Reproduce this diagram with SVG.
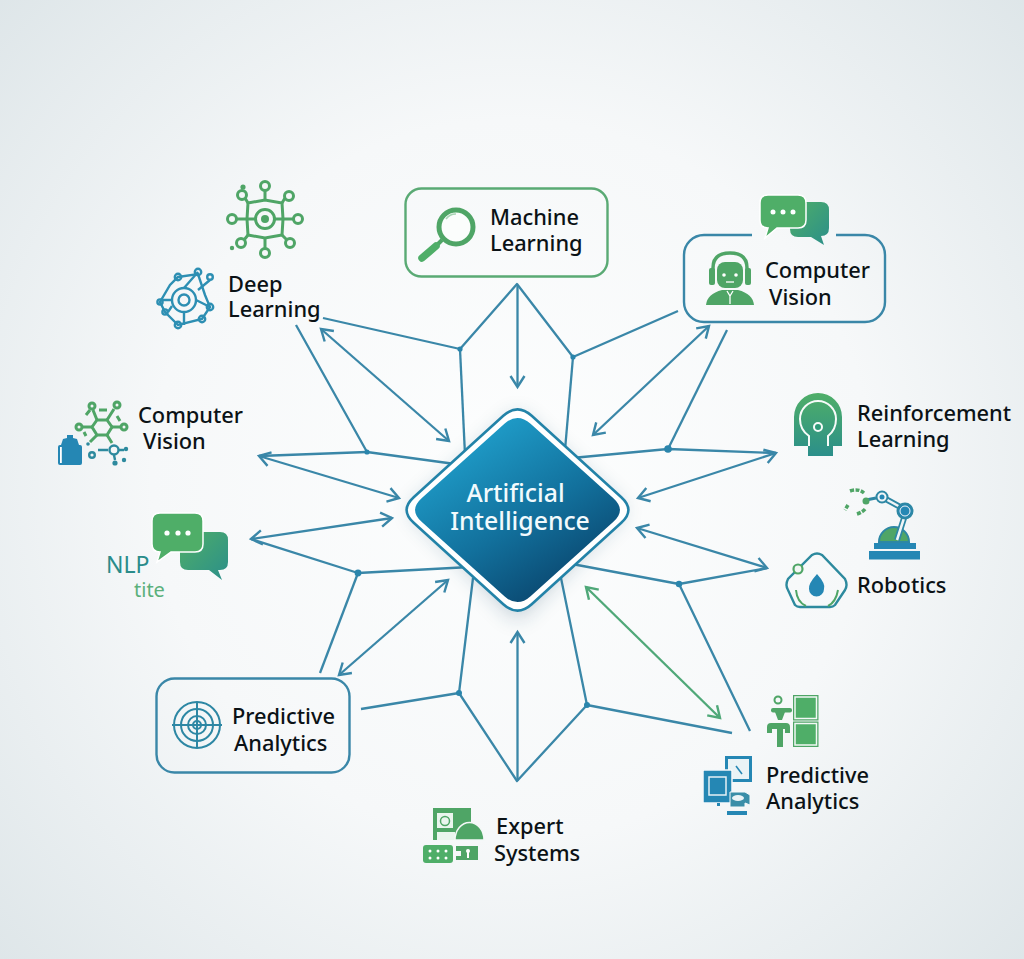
<svg xmlns="http://www.w3.org/2000/svg" width="1024" height="959" viewBox="0 0 1024 959">
<defs>
<radialGradient id="bg" gradientUnits="userSpaceOnUse" cx="512" cy="480" r="720">
<stop offset="0" stop-color="#fdfefe"/><stop offset="0.5" stop-color="#f6f8f9"/><stop offset="1" stop-color="#dde5e8"/>
</radialGradient>
<linearGradient id="core" x1="0.25" y1="0.1" x2="0.8" y2="0.9">
<stop offset="0" stop-color="#1f9dc9"/><stop offset="0.55" stop-color="#12709c"/><stop offset="1" stop-color="#0a466e"/>
</linearGradient>
<linearGradient id="gt" x1="0" y1="0" x2="1" y2="1">
<stop offset="0" stop-color="#4fae68"/><stop offset="1" stop-color="#2b8f8a"/>
</linearGradient>
<linearGradient id="gv" x1="0" y1="0" x2="0" y2="1">
<stop offset="0" stop-color="#4fae68"/><stop offset="1" stop-color="#2b8f8a"/>
</linearGradient>
<filter id="blur" x="-30%" y="-30%" width="160%" height="160%"><feGaussianBlur stdDeviation="11"/></filter>
<marker id="ah" markerUnits="userSpaceOnUse" markerWidth="30" markerHeight="30" refX="15" refY="15" orient="auto-start-reverse" overflow="visible">
<path d="M4,8 L15,15 L4,22" fill="none" stroke="#3a87a8" stroke-width="2.400"/>
</marker>
<marker id="ahg" markerUnits="userSpaceOnUse" markerWidth="30" markerHeight="30" refX="15" refY="15" orient="auto-start-reverse" overflow="visible">
<path d="M4,8 L15,15 L4,22" fill="none" stroke="#4fa878" stroke-width="2.400"/>
</marker>
</defs>
<style>
.t{font-family:"Noto Sans","Open Sans","Liberation Sans",sans-serif;font-size:21.8px;font-weight:500;fill:#0b1216}
.w{font-family:"Noto Sans","Open Sans","Liberation Sans",sans-serif;font-size:24.800px;font-weight:500;fill:#f2fafd;text-anchor:middle}
.c{fill:none;stroke:#3a87a8;stroke-width:2.300;stroke-linejoin:round}
.a{marker-end:url(#ah)}
.d{marker-start:url(#ah);marker-end:url(#ah)}
.n{fill:#2a85ac}
.g{fill:none;stroke:#4fa566;stroke-width:3}
.gf{fill:#4fa566}
.b{fill:none;stroke:#2d8fb3;stroke-width:2.400}
.bf{fill:#2587b4}
.te{fill:none;stroke:#2d8a9e;stroke-width:2.400}
.tf{fill:#2d8a9e}
.box{fill:none;stroke-width:2.400}
</style>
<rect width="1024" height="959" fill="url(#bg)"/>

<g id="connectors">
<polyline class="c" points="323,318 460,349 517,284 573,357 678,311"/>
<polyline class="c" points="460,349 465,455"/>
<polyline class="c" points="573,357 565,450"/>
<line class="c a" x1="517.500" y1="285" x2="517.500" y2="387"/>
<line class="c d" x1="321" y1="329" x2="449" y2="441"/>
<polyline class="c" points="296,325 367,452 455,464"/>
<polyline class="c" points="367,452 259,456"/>
<line class="c d" x1="259" y1="456" x2="399" y2="498"/>
<line class="c d" x1="251" y1="539" x2="392" y2="518"/>
<polyline class="c" points="251,539 358,573 470,567"/>
<line class="c" x1="358" y1="573" x2="320" y2="673"/>
<line class="c d" x1="339" y1="675" x2="448" y2="580"/>
<polyline class="c" points="361,709 459,693 473,578"/>
<polyline class="c" points="459,693 517,781 587,705 561,578"/>
<line class="c" x1="587" y1="705" x2="732" y2="733"/>
<line class="c a" x1="517.500" y1="781" x2="517.500" y2="632"/>
<line fill="none" stroke="#4fa878" stroke-width="2.300" marker-start="url(#ahg)" marker-end="url(#ahg)" x1="586" y1="587" x2="720" y2="718"/>
<polyline class="c" points="750,731 679,584 572,564"/>
<line class="c" x1="679" y1="584" x2="767" y2="568"/>
<line class="c d" x1="767" y1="568" x2="637" y2="528"/>
<line class="c d" x1="776" y1="453" x2="638" y2="498"/>
<polyline class="c" points="776,453 668,449 572,458"/>
<line class="c" x1="668" y1="449" x2="727" y2="330"/>
<line class="c d" x1="709" y1="326" x2="593" y2="435"/>
<circle class="n" cx="460" cy="349" r="2.600"/>
<circle class="n" cx="573" cy="357" r="2.600"/>
<circle class="n" cx="367" cy="452" r="2.600"/>
<circle class="n" cx="668" cy="449" r="3.800"/>
<circle class="n" cx="358" cy="573" r="3.400"/>
<circle class="n" cx="679" cy="584" r="3.200"/>
<circle class="n" cx="459" cy="693" r="3"/>
<circle class="n" cx="587" cy="705" r="3"/>
</g>

<g id="node-ai">
<path d="M517.5,413 L625,510 L517.5,620 L410,510 Z" fill="#1b4a66" opacity="0.28" filter="url(#blur)"/>
<path d="M503.300,415.800 Q517.500,403 531.700,415.800 L621.300,497.200 Q635.500,510 621.300,522.800 L531.700,604.200 Q517.500,617 503.300,604.200 L413.700,522.800 Q399.500,510 413.700,497.200 Z" fill="#ffffff" stroke="#2383a8" stroke-width="2.600"/>
<path d="M504.400,423.800 Q517.500,412 530.600,423.800 L613.400,498.200 Q626.500,510 613.400,521.800 L530.600,596.200 Q517.500,608 504.400,596.200 L421.600,521.800 Q408.500,510 421.600,498.200 Z" fill="url(#core)"/>
<text class="w" x="515.500" y="502">Artificial</text>
<text class="w" x="520" y="530">Intelligence</text>
</g>

<g id="node-machine-learning">
<rect class="box" x="405.500" y="188.500" width="202" height="88" rx="16" stroke="#5aaa74"/>
<circle cx="456" cy="227" r="17" fill="#fbfdfc" stroke="#4fa566" stroke-width="5"/>
<path d="M446,219 A12,12 0 0 1 456,214" fill="none" stroke="#a8d4b4" stroke-width="1.600"/>
<line x1="442" y1="240" x2="437" y2="245" stroke="#4fa566" stroke-width="4"/>
<line x1="436" y1="246" x2="422" y2="258" stroke="#4fae68" stroke-width="7.500" stroke-linecap="round"/>
<text class="t" x="490" y="225">Machine</text>
<text class="t" x="490" y="251">Learning</text>
</g>

<g id="node-computer-vision-box">
<path class="box" d="M752,235 H704 A20,20 0 0 0 684,255 V302 A20,20 0 0 0 704,322 H865 A20,20 0 0 0 885,302 V255 A20,20 0 0 0 865,235 H836" stroke="#3a87a8"/>
<path d="M794,202 H821 Q829,202 829,210 V228 Q829,236 821,236 L824,245 L811,237 H798 Q790,237 790,229 Z" fill="url(#gt)"/>
<path d="M768,195 H798 Q806,195 806,203 V220 Q806,228 798,228 H777 L765,238 L768,228 Q760,228 760,220 V203 Q760,195 768,195 Z" fill="#4fae68" stroke="#ffffff" stroke-width="1.500"/>
<circle cx="773" cy="212" r="2.500" fill="#fff"/><circle cx="783" cy="212" r="2.500" fill="#fff"/><circle cx="793" cy="212" r="2.500" fill="#fff"/>
<path d="M706,305 Q707,294 722,290 L738,290 Q753,294 754,305 Z" class="gf"/>
<rect x="717" y="262" width="26" height="26" rx="8" class="gf"/>
<path d="M713,283 V268 Q713,253 730,253 Q747,253 747,268 V283" fill="none" stroke="#4fa566" stroke-width="3.500"/>
<rect x="709" y="268" width="6" height="17" rx="2" class="gf"/><rect x="745" y="268" width="6" height="17" rx="2" class="gf"/>
<circle cx="724" cy="275" r="1.800" fill="#fff"/><circle cx="736" cy="275" r="1.800" fill="#fff"/>
<path d="M726,282 H734" stroke="#fff" stroke-width="1.300"/>
<path d="M727,291 L730,296 L733,291 M730,296 V304" stroke="#fff" stroke-width="1.300" fill="none"/>
<text class="t" x="765" y="278">Computer</text>
<text class="t" x="769" y="305">Vision</text>
</g>

<g id="node-deep-learning">
<g class="g">
<path d="M248,203 L265,200 L282,203 L283,219 L282,235 L265,238 L248,235 L247,219 Z"/>
<path d="M265,191 V200 M265,238 V248 M236,219 H255 M275,219 H294 M245,198 L248,203 M285,198 L282,203 M282,235 L287,240 M248,235 L244,240"/>
<circle cx="265" cy="186" r="4.500"/><circle cx="289" cy="196" r="4.500"/><circle cx="298" cy="219" r="4.500"/><circle cx="290" cy="243" r="4.500"/><circle cx="265" cy="253" r="4.500"/><circle cx="241" cy="243" r="4.500"/><circle cx="232" cy="219" r="4.500"/><circle cx="242" cy="195" r="4.500"/>
<circle cx="265" cy="219" r="9.500"/>
</g>
<circle class="gf" cx="265" cy="219" r="4"/><circle class="gf" cx="243" cy="187" r="2.600"/><circle class="gf" cx="232" cy="248" r="2.200"/>
<g class="b">
<circle cx="184" cy="300" r="5.500"/><circle cx="184" cy="300" r="12"/>
<path d="M178,277 L198,274 L205,295 L210,307 L202,319 L178,325 L165,312 L160,302 L170,285 Z"/>
<path d="M184,288 L198,272 M196,300 L210,307 M184,312 V325 M172,300 H160 M198,290 L210,280 M168,312 L172,306"/>
<circle cx="178" cy="277" r="3.200"/><circle cx="198" cy="272" r="3.200"/><circle cx="210" cy="277" r="2.800"/><circle cx="210" cy="307" r="3.200"/><circle cx="202" cy="319" r="3.200"/><circle cx="178" cy="325" r="3.200"/><circle cx="165" cy="312" r="2.600"/><circle cx="160" cy="302" r="2.600"/>
</g>
<text class="t" x="228" y="292">Deep</text>
<text class="t" x="228" y="317">Learning</text>
</g>

<g id="node-computer-vision-left">
<g class="g" stroke-width="2.400">
<path d="M97,420 H107 L112,427 L107,435 H97 L92,427 Z"/>
<path d="M97,420 L93,410 M107,420 L114,409 M112,427 H120 M92,427 H83 M97,435 L90,442 M107,435 L112,443 M99,410 H107 M86,415 L90,410 M117,416 L120,421 M86,436 L84,432"/>
<circle cx="92" cy="406" r="3"/><circle cx="117" cy="405" r="3"/><circle cx="124" cy="427" r="3"/><circle cx="79" cy="427" r="3"/>
</g>
<rect x="58" y="445" width="24" height="20" rx="2" class="bf"/>
<rect x="60" y="447" width="1.800" height="16" fill="#fff"/>
<path d="M61,445 L63,439 L67,438 V435 H73 V438 L77,439 L79,445 Z" class="bf"/>
<g class="te"><circle cx="114" cy="450" r="4.500"/><circle cx="92" cy="455" r="2.800"/><path d="M98,450 H108 M119,450 H124 M114,455 L115,460"/></g>
<circle class="tf" cx="115" cy="463" r="2.600"/><circle class="tf" cx="124" cy="460" r="2.200"/><circle class="tf" cx="126" cy="449" r="2.200"/><circle class="tf" cx="88" cy="444" r="1.800"/>
<text class="t" x="138" y="423">Computer</text>
<text class="t" x="143" y="449">Vision</text>
</g>

<g id="node-nlp">
<path d="M190,532 H220 Q228,532 228,540 V562 Q228,570 220,570 H218 L222,580 L209,570 H188 Q180,570 180,562 V540 Q180,532 190,532 Z" fill="url(#gt)"/>
<path d="M160,513 H195 Q203,513 203,521 V544 Q203,552 195,552 H171 L157,562 L160,552 Q152,552 152,544 V521 Q152,513 160,513 Z" fill="#4fae68" stroke="#ffffff" stroke-width="1.500"/>
<circle cx="167" cy="533" r="2.600" fill="#fff"/><circle cx="178" cy="533" r="2.600" fill="#fff"/><circle cx="188" cy="533" r="2.600" fill="#fff"/>
<text x="106" y="573" font-family="Noto Sans, sans-serif" font-size="23" fill="#2a8c8a">NLP</text>
<text x="134" y="597" font-family="Noto Sans, sans-serif" font-size="20" fill="#5bb07b">tite</text>
</g>

<g id="node-predictive-box">
<rect class="box" x="156.500" y="678.500" width="193" height="94" rx="18" stroke="#3a87a8"/>
<g fill="none" stroke="#2d87a4" stroke-width="2">
<circle cx="197" cy="725" r="23"/><circle cx="197" cy="725" r="16"/><circle cx="197" cy="725" r="9"/><circle cx="197" cy="725" r="4"/>
<path d="M172,725 H222 M197,702 V748"/>
</g>
<text class="t" x="232" y="724">Predictive</text>
<text class="t" x="234" y="751">Analytics</text>
</g>

<g id="node-reinforcement">
<path d="M794,446 V417 A24,24 0 0 1 842,417 V446 H833 V456 H808 V446 Z" fill="url(#gv)"/>
<path d="M809,446 V436 Q800,430 800,419 A18,18 0 0 1 836,419 Q836,430 828,436 V446" fill="none" stroke="#f7fbf9" stroke-width="2"/>
<circle cx="818" cy="427" r="4" fill="#2f9a78" stroke="#f7fbf9" stroke-width="2"/>
<text class="t" x="857" y="421">Reinforcement</text>
<text class="t" x="857" y="447">Learning</text>
</g>

<g id="node-robotics">
<rect x="869" y="551" width="51" height="8.500" class="bf"/>
<rect x="874" y="543" width="42" height="6" class="bf"/>
<path d="M879,542 A15,15 0 0 1 909,542 Z" fill="#4fa566" stroke="#2d87a4" stroke-width="2"/>
<path d="M897,540 L905,515 M882,497 L902,508" stroke="#2d87a4" stroke-width="6" fill="none"/>
<path d="M897,540 L905,515 M882,497 L902,508" stroke="#f1f5f7" stroke-width="2.500" fill="none"/>
<line x1="866" y1="500" x2="876" y2="498" stroke="#2d87a4" stroke-width="3"/>
<circle cx="905" cy="511" r="7.500" fill="#2587b4" stroke="#2d87a4" stroke-width="2"/>
<circle cx="905" cy="511" r="5" fill="#2587b4" stroke="#f1f5f7" stroke-width="1"/>
<circle cx="882" cy="497" r="5.500" fill="#f1f5f7" stroke="#2d87a4" stroke-width="2"/>
<circle cx="882" cy="497" r="2.500" class="bf"/>
<circle cx="866" cy="501" r="3.500" class="gf"/>
<path d="M850,491 Q858,488 864,493 M848,505 L845,510 M857,514 Q863,512 866,508" fill="none" stroke="#4fa566" stroke-width="3.500" stroke-dasharray="4 1.500"/>
<path class="te" d="M812,555 Q817,552 822,555 L845,579 Q848,585 845,590 L835,605 Q833,607 830,607 H800 Q797,607 795,605 L788,590 Q785,585 788,579 Z"/>
<path d="M817,574 Q826,584 824,589 A7.500,7.500 0 0 1 809,589 Q808,584 817,574 Z" class="bf"/>
<circle cx="798" cy="569" r="4.500" fill="#f1f6f4" stroke="#4fa566" stroke-width="2.200"/>
<path d="M796,590 Q797,602 806,606 M838,590 Q836,602 828,606" fill="none" stroke="#4fa566" stroke-width="2"/>
<text class="t" x="857" y="593">Robotics</text>
</g>

<g id="node-predictive-right">
<rect x="793" y="695" width="25.500" height="25.500" class="gf"/>
<rect x="795" y="697" width="21.500" height="21.500" fill="#4fae68" stroke="#f2f8f5" stroke-width="1.500"/>
<rect x="793" y="721.500" width="25.500" height="25.500" class="gf"/>
<rect x="795" y="723.500" width="21.500" height="21.500" fill="#4fae68" stroke="#f2f8f5" stroke-width="1.500"/>
<circle cx="778" cy="700" r="3.500" fill="none" stroke="#4fa566" stroke-width="2"/>
<rect x="771" y="708" width="21" height="4.500" rx="2" class="gf"/>
<path d="M775,712 H785 L782,720 H778 Z" class="gf"/>
<path d="M767,727 Q767,723 771,723 H786 Q790,723 790,727 V733 H785 V729 H783 V747 H777 V729 H772 V733 H767 Z" class="gf"/>
<rect x="725" y="756" width="27" height="26" fill="#2587b4"/>
<rect x="728" y="759" width="21" height="20" fill="#eaf3f6"/>
<line x1="736" y1="766" x2="742" y2="774" stroke="#2587b4" stroke-width="1.500"/>
<rect x="703" y="770" width="29" height="33" rx="1" class="bf" stroke="#f4f8fa" stroke-width="1.500"/>
<rect x="709" y="777" width="17" height="18" class="bf" stroke="#e6f1f5" stroke-width="1.500"/>
<rect x="717" y="803" width="3" height="3" class="bf"/>
<path d="M730,792 H745 L750,795 V805 L745,803 V807 H730 Z" fill="#3a8ea8" stroke="#f4f8fa" stroke-width="1"/>
<ellipse cx="738" cy="798" rx="6" ry="3" fill="#eaf3f6"/>
<rect x="727" y="811" width="20" height="4" class="bf"/>
<text class="t" x="766" y="783">Predictive</text>
<text class="t" x="766" y="809">Analytics</text>
</g>

<g id="node-expert-systems">
<rect x="433" y="808" width="38" height="32" class="gf"/>
<rect x="437" y="813" width="16" height="15" fill="#eaf5ee"/>
<circle cx="445" cy="821" r="4.500" fill="none" stroke="#4fa566" stroke-width="1.500"/>
<rect x="437" y="832" width="18" height="8" fill="#eaf5ee"/>
<path d="M455,840 A14,17 0 0 1 484,840 Z" class="gf" stroke="#f4f8f7" stroke-width="1.500"/>
<rect x="423" y="845" width="30" height="18" rx="3" fill="#4fae68"/>
<g fill="#fff"><circle cx="430" cy="851" r="1.500"/><circle cx="438" cy="851" r="1.500"/><circle cx="446" cy="851" r="1.500"/><circle cx="430" cy="858" r="1.500"/><circle cx="438" cy="858" r="1.500"/><circle cx="446" cy="858" r="1.500"/></g>
<path d="M456,846 H478 V860 H456 V856 H461 V851 H456 Z" class="gf"/>
<circle cx="468" cy="851" r="2" fill="#fff"/><rect x="467" y="851" width="2" height="7" fill="#fff"/>
<text class="t" x="496" y="834">Expert</text>
<text class="t" x="494" y="861">Systems</text>
</g>
</svg>
